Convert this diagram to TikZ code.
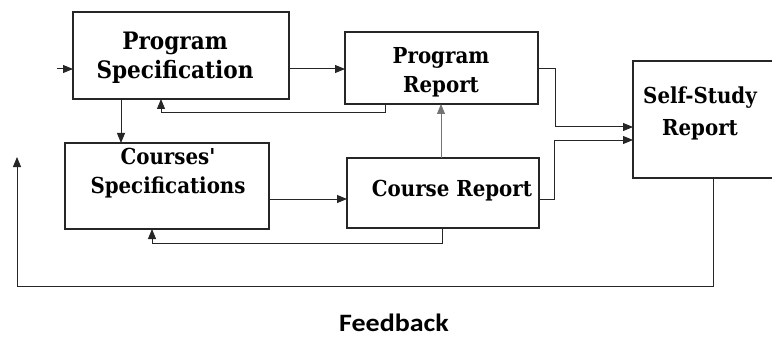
\documentclass[tikz,border=0pt]{standalone}
\usepackage{fontspec}
\setmainfont{DejaVu Serif Condensed}[Ligatures=TeXOff]
\newfontfamily\fbfont{Carlito}
\usetikzlibrary{arrows.meta,calc}
\tikzset{
  box/.style={draw=black!85, line width=1.4pt, inner sep=0pt, outer sep=0pt},
  lbl/.style={align=center, font=\bfseries\fontsize{22}{29}\selectfont, inner sep=0pt},
  biglbl/.style={align=center, font=\bfseries\fontsize{24}{29}\selectfont, inner sep=0pt},
  arr/.style={draw=black!85, line width=1pt, -{Triangle[length=10pt,width=8pt]}},
}
\begin{document}
\begin{tikzpicture}[x=1pt,y=-1pt]
\useasboundingbox (0,0) rectangle (772,337);
% boxes
\node[box, minimum width=216pt, minimum height=87pt] (ps) at (181,55.5) {};
\node[box, minimum width=193pt, minimum height=72pt] (pr) at (441.5,68) {};
\node[box, minimum width=204pt, minimum height=86pt] (cs) at (167,186) {};
\node[box, minimum width=192pt, minimum height=70pt] (cr) at (443,193) {};
\node[box, minimum width=142pt, minimum height=117pt] (ssr) at (704,119.5) {};
% texts
\node[biglbl] (pst) at (175,58) {Program\\Specification};
\node[lbl] (prt) at (441,72) {Program\\Report};
\node[lbl] (cst) at (168,173) {Courses'\\Specifications};
\node[lbl] (crt) at (452,191) {Course Report};
\node[lbl, font=\bfseries\fontsize{22}{32}\selectfont] (ssrt) at (700,113) {Self-Study\\Report};
\node[inner sep=0pt, font=\fbfont\bfseries\fontsize{25}{28}\selectfont] (fbt) at (394,323) {\scalebox{1.12}[1]{Feedback}};
% coordinates
\coordinate (in) at (57,69);
\coordinate (fbtip) at (17,157);
% connectors
\draw[arr] (in) -- (in -| ps.west);
\draw[arr] (ps.east |- in) -- (pr.west |- in);
\draw[arr] (pr.south -| 385,0) -- (385,113) -| (ps.south -| 161,0);
\draw[arr] (ps.south -| 121,0) -- (cs.north -| 121,0);
\draw[arr] (cs.east |- 0,199) -- (cr.west |- 0,199);
\draw[arr] (cr.south -| 442,0) -- (442,243) -| (cs.south -| 152,0);
\draw[arr, draw=black!55, line width=0.8pt] (cr.north -| 441,0) -- (pr.south -| 441,0);
\draw[arr] (pr.east |- 0,69) -- (555,69) |- (ssr.west |- 0,127);
\draw[arr] (cr.east |- 0,199) -- (554,199) |- (ssr.west |- 0,140);
\draw[arr] (ssr.south -| 713,0) -- (713,286) -- (17,286) -- (fbtip);
\end{tikzpicture}
\end{document}
